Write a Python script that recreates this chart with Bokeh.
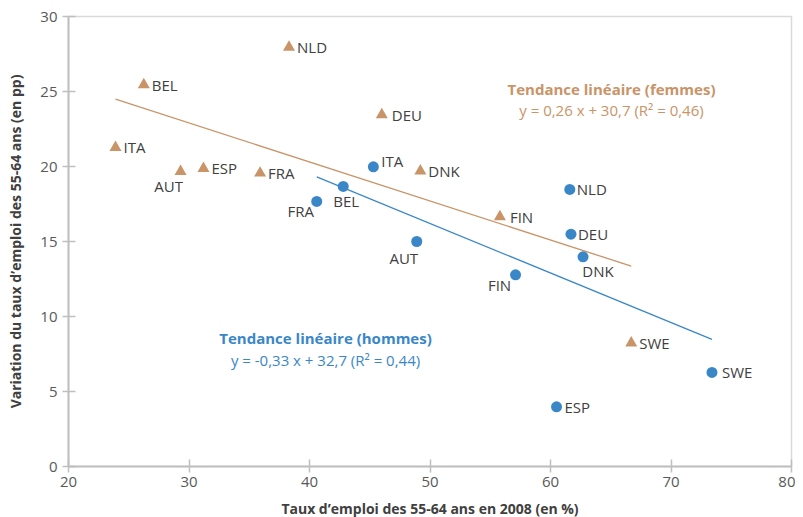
from bokeh.plotting import figure
from bokeh.models import ColumnDataSource, Range1d, Label, FixedTicker
from bokeh.embed import file_html
from bokeh.resources import INLINE
from bokeh.core.properties import value

# ---- data ----
countries_f = ["NLD", "BEL", "DEU", "ITA", "AUT", "ESP", "FRA", "DNK", "FIN", "SWE"]
x_f = [38.3, 26.25, 46.0, 23.9, 29.3, 31.2, 35.9, 49.2, 55.8, 66.7]
y_f = [27.95, 25.45, 23.45, 21.27, 19.67, 19.87, 19.56, 19.7, 16.65, 8.23]

countries_m = ["ITA", "BEL", "FRA", "NLD", "DEU", "AUT", "DNK", "FIN", "ESP", "SWE"]
x_m = [45.3, 42.8, 40.6, 61.6, 61.7, 48.9, 62.7, 57.1, 60.5, 73.4]
y_m = [19.98, 18.67, 17.67, 18.47, 15.49, 15.0, 13.98, 12.78, 3.98, 6.27]

slope_f, icpt_f = -0.26, 30.7
slope_m, icpt_m = -0.33, 32.7

x_ticks = [20, 30, 40, 50, 60, 70, 80]
y_ticks = [0, 5, 10, 15, 20, 25, 30]

title_x = "Taux d\u2019emploi des 55-64 ans en 2008 (en %)"
title_y = "Variation du taux d\u2019emploi des 55-64 ans (en pp)"
ann_f = ["Tendance linéaire (femmes)", "y = 0,26 x + 30,7 (R\u00b2 = 0,46)"]
ann_m = ["Tendance linéaire (hommes)", "y = -0,33 x + 32,7 (R\u00b2 = 0,44)"]

# ---- label placement (screen px) ----
dx_f = [8, 8, 10, 8, -12, 8, 8, 8, 10, 8]
dy_f = [0, 0, 0, 0, 15, 0, 0, 0, 0, 0]
al_f = ["left", "left", "left", "left", "center", "left", "left", "left", "left", "left"]
dx_m = [8, 3, -16, 7, 7, -13, 15, -16, 8, 10]
dy_m = [-6, 15, 10, 0, 0, 16, 14, 10, 0, 0]
al_m = ["left", "center", "center", "left", "left", "center", "center", "center", "left", "left"]

TAN = "#C99468"
BLUE = "#3A87C8"
TXT = "#404040"
FONT = "Open Sans"

p = figure(width=795, height=509, output_backend="svg", toolbar_location=None,
           x_range=Range1d(20, 80), y_range=Range1d(0, 30),
           min_border_left=68, min_border_right=4, min_border_top=16, min_border_bottom=43)
p.frame_width = 723
p.frame_height = 450
p.xgrid.visible = False
p.ygrid.visible = False
p.outline_line_color = "#D9D9D9"
p.outline_line_width = 1.5

for ax, ticks in ((p.xaxis, x_ticks), (p.yaxis, y_ticks)):
    ax.ticker = FixedTicker(ticks=ticks)
    ax.axis_line_color = "#BFBFBF"
    ax.axis_line_width = 2
    ax.major_tick_line_color = "#BFBFBF"
    ax.major_tick_line_width = 1.5
    ax.major_tick_in = 7
    ax.major_tick_out = 6
    ax.minor_tick_line_color = None
    ax.major_label_text_font = FONT
    ax.major_label_text_font_size = "15px"
    ax.major_label_text_color = "#595959"
    ax.axis_label_text_font = FONT
    ax.axis_label_text_font_size = "14px"
    ax.axis_label_text_font_style = "bold"
    ax.axis_label_text_color = TXT
p.xaxis.axis_label = title_x
p.yaxis.axis_label = title_y
p.xaxis.major_label_standoff = 4
p.yaxis.major_label_standoff = 5
p.xaxis.axis_label_standoff = 9
p.yaxis.axis_label_standoff = 12

# trend lines over the data range
xf_line = [min(x_f), max(x_f)]
xm_line = [min(x_m), max(x_m)]
p.line(xf_line, [slope_f * v + icpt_f for v in xf_line], line_color=TAN, line_width=1.3)
p.line(xm_line, [slope_m * v + icpt_m for v in xm_line], line_color=BLUE, line_width=1.3)

src_f = ColumnDataSource(dict(x=x_f, y=y_f, t=countries_f, dx=dx_f, dy=dy_f, al=al_f))
src_m = ColumnDataSource(dict(x=x_m, y=y_m, t=countries_m, dx=dx_m, dy=dy_m, al=al_m))

p.scatter("x", "y", source=src_f, marker="triangle", size=12, fill_color=TAN, line_color=None)
p.scatter("x", "y", source=src_m, marker="circle", size=11, fill_color=BLUE, line_color=None)

for src in (src_f, src_m):
    p.text("x", "y", text="t", source=src, x_offset="dx", y_offset="dy", text_align="al",
           text_baseline="middle", text_font=value(FONT), text_font_size="15px", text_color=TXT)

def ann(lines, x, y0, y1, color):
    p.add_layout(Label(x=x, y=y0, text=lines[0], text_align="center", text_baseline="middle",
                       text_font=FONT, text_font_size="15px", text_font_style="bold", text_color=color))
    p.add_layout(Label(x=x, y=y1, text=lines[1], text_align="center", text_baseline="middle",
                       text_font=FONT, text_font_size="15px", text_color=color))

ann(ann_f, 65.06, 25.18, 23.78, TAN)
ann(ann_m, 41.33, 8.58, 7.11, BLUE)

open("out.html", "w").write(file_html(p, INLINE))
